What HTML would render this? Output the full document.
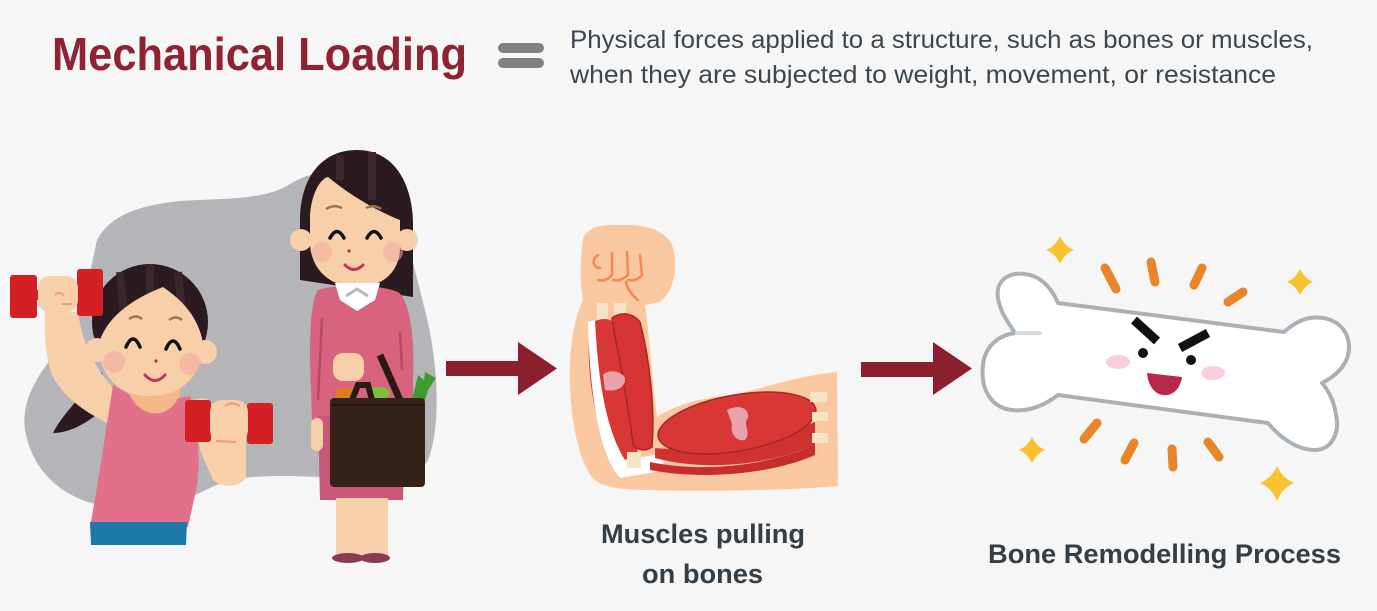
<!DOCTYPE html>
<html><head><meta charset="utf-8"><style>
html,body{margin:0;padding:0;background:#f6f6f6;}
svg{display:block;}
</style></head><body>
<svg width="1377" height="611" viewBox="0 0 1377 611" xmlns="http://www.w3.org/2000/svg">
<rect width="1377" height="611" fill="#f6f6f6"/>

<!-- Header -->
<text x="52" y="70" font-family="Liberation Sans, sans-serif" font-weight="bold" font-size="46" fill="#8e2333" textLength="415" lengthAdjust="spacingAndGlyphs">Mechanical Loading</text>
<rect x="498" y="43" width="46" height="10" rx="5" fill="#818181"/>
<rect x="498" y="58" width="46" height="10" rx="5" fill="#818181"/>
<text x="570" y="48" font-family="Liberation Sans, sans-serif" font-size="25" fill="#3b464e" textLength="743" lengthAdjust="spacingAndGlyphs">Physical forces applied to a structure, such as bones or muscles,</text>
<text x="570" y="83" font-family="Liberation Sans, sans-serif" font-size="25" fill="#3b464e" textLength="706" lengthAdjust="spacingAndGlyphs">when they are subjected to weight, movement, or resistance</text>

<!-- Gray blob -->
<path d="M 97 240 C 110 215, 140 205, 180 201 C 230 198, 265 200, 290 184 C 310 172, 340 165, 370 170 C 400 200, 412 260, 425 310 C 440 370, 440 430, 428 460 C 418 478, 390 478, 340 478 C 300 476, 260 474, 230 480 C 210 486, 200 495, 180 500 L 95 504 C 60 495, 32 470, 25 430 C 20 395, 45 365, 70 335 C 85 310, 90 270, 97 240 Z" fill="#b4b5b9"/>

<!-- ===== Girl with dumbbells ===== -->
<path d="M 102 372 C 82 395, 62 415, 53 433 C 72 433, 92 420, 108 405 Z" fill="#2b1a20"/>
<ellipse cx="150" cy="322" rx="58" ry="58" fill="#2b1a20"/>
<path d="M 120 272 L 126 340 M 150 264 L 150 300 M 178 272 L 184 330" stroke="#3a262c" stroke-width="8"/>
<path d="M 45 310 L 78 312 C 82 340, 92 365, 115 390 L 112 425 C 90 415, 65 400, 52 375 C 45 355, 44 330, 45 310 Z" fill="#f7cfa9"/>
<rect x="128" y="375" width="52" height="40" fill="#f4b787"/>
<path d="M 113 385 L 130 395 C 140 418, 168 420, 178 398 L 190 396 C 198 420, 202 470, 195 495 L 188 527 L 90 527 C 95 500, 100 470, 106 430 Z" fill="#e2708b"/>
<path d="M 90 522 L 187 522 L 186 545 L 91 545 Z" fill="#1c79a9"/>
<path d="M 193 400 C 205 396, 212 400, 215 410 L 246 410 L 246 478 C 238 488, 222 488, 213 480 L 200 450 Z" fill="#f7cfa9"/>
<path d="M 100 340 C 110 312, 140 296, 163 287 C 182 300, 196 315, 202 338 C 205 372, 185 396, 150 396 C 115 396, 97 372, 100 340 Z" fill="#f7cfa9"/>
<circle cx="97" cy="350" r="12" fill="#f7cfa9"/>
<circle cx="205" cy="352" r="12" fill="#f7cfa9"/>
<circle cx="114" cy="362" r="11" fill="#f2a9a0" opacity="0.6"/>
<circle cx="190" cy="364" r="11" fill="#f2a9a0" opacity="0.6"/>
<path d="M 129 319 Q 136 314 142 319 M 169 320 Q 176 315 182 320" stroke="#a07448" stroke-width="2.5" fill="none"/>
<path d="M 126 347 Q 133 331 140 347 M 166 349 Q 173 333 180 349" stroke="#111" stroke-width="3.5" fill="none" stroke-linecap="round"/>
<circle cx="156" cy="361" r="1.6" fill="#b03050"/>
<path d="M 145 375 Q 155 386 165 375" stroke="#c23458" stroke-width="3" fill="none" stroke-linecap="round"/>
<rect x="37" y="290" width="42" height="10" fill="#d42024"/>
<rect x="10" y="275" width="27" height="43" rx="3" fill="#d42024"/>
<rect x="77" y="269" width="26" height="47" rx="3" fill="#d42024"/>
<rect x="38" y="276" width="40" height="36" rx="12" fill="#f7cfa9"/>
<path d="M 55 295 Q 60 290 64 296 M 62 304 L 72 304" stroke="#eb9a7a" stroke-width="2" fill="none"/>
<rect x="185" y="400" width="26" height="42" rx="3" fill="#d42024"/>
<rect x="247" y="403" width="26" height="41" rx="3" fill="#d42024"/>
<rect x="210" y="400" width="38" height="42" rx="12" fill="#f7cfa9"/>
<path d="M 225 406 Q 232 401 240 406 M 216 441 L 236 442" stroke="#eb9a7a" stroke-width="2" fill="none"/>

<!-- ===== Woman with bag ===== -->
<path d="M 357 150 C 395 150, 413 185, 413 225 L 413 297 L 300 280 L 300 220 C 300 180, 320 150, 357 150 Z" fill="#2b1a20"/>
<path d="M 340 155 L 340 180 M 372 152 L 372 200" stroke="#3a262c" stroke-width="8"/>
<path d="M 318 290 C 335 284, 380 284, 398 292 C 410 300, 415 340, 413 380 L 413 417 L 312 420 L 310 360 C 310 320, 312 300, 318 290 Z" fill="#d8637e"/>
<path d="M 322 318 L 318 400 M 400 332 L 402 370" stroke="#b84866" stroke-width="2.5"/>
<path d="M 318 416 L 405 416 L 403 500 L 320 500 Z" fill="#c8577a"/>
<path d="M 310 215 C 312 190, 322 178, 328 177 C 350 195, 375 210, 400 220 L 400 250 C 398 275, 380 287, 357 287 C 330 287, 312 270, 310 245 Z" fill="#f7cfa9"/>
<circle cx="301" cy="240" r="11" fill="#f7cfa9"/>
<circle cx="407" cy="240" r="11" fill="#f7cfa9"/>
<circle cx="322" cy="252" r="10" fill="#f2a9a0" opacity="0.55"/>
<circle cx="393" cy="252" r="10" fill="#f2a9a0" opacity="0.55"/>
<path d="M 326 209 Q 334 204 342 208 M 366 208 Q 374 204 381 209" stroke="#a07448" stroke-width="2.5" fill="none"/>
<path d="M 330 238 Q 337 225 344 238 M 367 238 Q 374 225 381 238" stroke="#111" stroke-width="3.5" fill="none" stroke-linecap="round"/>
<circle cx="349" cy="251" r="1.6" fill="#b03050"/>
<path d="M 345 265 Q 354 274 363 265" stroke="#c23458" stroke-width="3" fill="none" stroke-linecap="round"/>
<path d="M 335 283 L 380 283 L 375 300 L 357 311 L 340 300 Z" fill="#ffffff"/>
<path d="M 346 296 L 357 289 L 368 296" stroke="#b5b8bd" stroke-width="3" fill="none"/>
<rect x="336" y="498" width="26" height="58" fill="#f7cfa9"/>
<rect x="362" y="498" width="26" height="58" fill="#f7cfa9"/>
<ellipse cx="348" cy="558" rx="16" ry="5" fill="#8b3a55"/>
<ellipse cx="375" cy="558" rx="15" ry="5" fill="#8b3a55"/>
<rect x="311" y="418" width="12" height="33" rx="6" fill="#f7cfa9"/>
<path d="M 412 400 L 418 375 L 424 380 L 425 372 L 436 378 L 428 390 L 425 400 Z" fill="#3f9b2f"/>
<rect x="336" y="388" width="16" height="12" fill="#e07a28"/>
<ellipse cx="378" cy="393" rx="12" ry="6" fill="#7cc040"/>
<path d="M 352 400 L 358 385 L 368 385 L 372 400" stroke="#2a1a12" stroke-width="6" fill="none"/>
<path d="M 380 355 L 400 400" stroke="#2a1a12" stroke-width="7"/>
<rect x="333" y="353" width="31" height="28" rx="10" fill="#f7cfa9"/>
<rect x="330" y="398" width="95" height="89" rx="4" fill="#35231a"/>
<path d="M 332 405 L 423 405" stroke="#22150e" stroke-width="2"/>

<!-- Arrow 1 -->
<polygon points="446,361 518,361 518,342 557,368.5 518,395 518,376 446,376" fill="#8b1f2f"/>

<!-- ===== Arm ===== -->
<path d="M 583 240 C 585 228, 600 224, 620 225 C 645 224, 665 230, 672 245 C 678 262, 676 290, 660 302 L 645 305 C 650 340, 652 380, 657 417 C 675 405, 700 398, 730 395 C 760 390, 795 376, 837 372 L 838 486 C 800 490, 700 492, 650 490 C 620 490, 600 487, 592 477 C 575 455, 568 400, 570 360 C 572 330, 578 310, 583 300 C 580 285, 580 260, 583 240 Z" fill="#f9c8a0"/>
<path d="M 598 255 C 592 258, 592 268, 600 268 M 612 253 L 612 275 Q 606 282 598 280 M 627 252 L 628 275 Q 620 282 613 280 M 640 255 L 642 275 Q 636 282 628 280 M 626 282 Q 628 292 638 300" stroke="#f08a50" stroke-width="2.5" fill="none" stroke-linecap="round"/>
<rect x="597" y="303" width="11" height="17" fill="#f6e4c4"/>
<rect x="614" y="303" width="12" height="16" fill="#f6e4c4"/>
<path d="M 590 325 C 600 315, 615 318, 622 330 C 635 370, 640 420, 637 455 C 630 462, 615 460, 608 455 C 595 420, 585 370, 590 325 Z" fill="#d93636"/>
<path d="M 612 318 C 620 312, 632 312, 640 322 C 650 360, 655 410, 652 447 C 645 452, 638 450, 633 445 C 628 400, 618 355, 612 318 Z" fill="#d63434" stroke="#a82626" stroke-width="1.5"/>
<path d="M 588 322 L 595 320 C 598 380, 606 430, 625 460 L 660 454 L 666 470 L 620 478 C 600 455, 590 400, 588 322 Z" fill="#ffffff"/>
<path d="M 603 375 C 610 368, 622 372, 625 378 C 626 388, 615 392, 605 390 Z" fill="#e9a3ab"/>
<path d="M 655 458 C 700 470, 760 468, 815 445 L 815 422 C 770 440, 700 452, 655 448 Z" fill="#d03232"/>
<path d="M 650 470 C 700 480, 770 475, 815 455 L 815 445 C 760 468, 700 472, 650 462 Z" fill="#c62e2e"/>
<ellipse cx="737" cy="423" rx="80" ry="28" transform="rotate(-10 737 423)" fill="#d93636" stroke="#a82626" stroke-width="1.5"/>
<path d="M 727 410 C 738 404, 750 408, 748 418 C 742 424, 752 432, 745 440 C 735 442, 730 432, 732 424 Z" fill="#e9a3ab"/>
<rect x="810" y="392" width="17" height="10" fill="#f6e4c4"/>
<rect x="812" y="412" width="16" height="9" fill="#f6e4c4"/>
<rect x="812" y="433" width="16" height="10" fill="#f6e4c4"/>
<rect x="627" y="452" width="14" height="16" fill="#f6e4c4"/>

<text x="601" y="543" font-family="Liberation Sans, sans-serif" font-weight="bold" font-size="27" fill="#333e46" textLength="204" lengthAdjust="spacingAndGlyphs">Muscles pulling</text>
<text x="642" y="583" font-family="Liberation Sans, sans-serif" font-weight="bold" font-size="27" fill="#333e46" textLength="121" lengthAdjust="spacingAndGlyphs">on bones</text>

<!-- Arrow 2 -->
<polygon points="861,362 933,362 933,342 972,368.5 933,395 933,377 861,377" fill="#8b1f2f"/>

<!-- ===== Bone ===== -->
<path d="M 1058 303 Q 1048 280 1030 275 C 1010 270, 995 280, 998 298 C 1000 312, 1008 322, 1015 333 C 1000 335, 985 345, 983 365 C 980 390, 992 408, 1012 410 C 1030 412, 1045 405, 1058 395 L 1268 423 C 1278 435, 1295 450, 1315 450 C 1332 450, 1340 432, 1336 415 C 1334 400, 1328 390, 1322 383 C 1338 375, 1350 362, 1349 345 C 1347 325, 1330 315, 1310 318 C 1298 320, 1290 327, 1284 332 Z" fill="#ffffff" stroke="#a9b0b6" stroke-width="4" stroke-linejoin="round"/>
<path d="M 1017 333 L 1040 333" stroke="#d6dadd" stroke-width="4" stroke-linecap="round"/>
<path d="M 1134 320 L 1157 341" stroke="#111" stroke-width="9"/>
<path d="M 1180 348 L 1208 333" stroke="#111" stroke-width="9"/>
<circle cx="1143" cy="353" r="5" fill="#111"/>
<circle cx="1191" cy="360" r="5" fill="#111"/>
<path d="M 1147 373 L 1182 377 C 1180 390, 1172 396, 1163 395 C 1154 394, 1148 385, 1147 373 Z" fill="#b8284a"/>
<ellipse cx="1118" cy="362" rx="12" ry="7" fill="#f6c2d2" opacity="0.8"/>
<ellipse cx="1213" cy="373" rx="12" ry="7" fill="#f6c2d2" opacity="0.8"/>
<g stroke="#e8842a" stroke-width="9" stroke-linecap="round">
<path d="M 1105 268 L 1116 289"/>
<path d="M 1151 262 L 1155 282"/>
<path d="M 1202 268 L 1194 285"/>
<path d="M 1243 292 L 1228 302"/>
<path d="M 1097 423 L 1084 439"/>
<path d="M 1134 443 L 1125 460"/>
<path d="M 1172 449 L 1173 467"/>
<path d="M 1208 442 L 1219 457"/>
</g>
<g fill="#f6c22e">
<path d="M 1060 236 Q 1064 246 1074 250 Q 1064 254 1060 264 Q 1056 254 1046 250 Q 1056 246 1060 236 Z"/>
<path d="M 1300 269 Q 1304 278 1313 282 Q 1304 286 1300 295 Q 1296 286 1287 282 Q 1296 278 1300 269 Z"/>
<path d="M 1032 437 Q 1036 446 1045 450 Q 1036 454 1032 463 Q 1028 454 1019 450 Q 1028 446 1032 437 Z"/>
<path d="M 1277 466 Q 1282 478 1294 483 Q 1282 488 1277 501 Q 1272 488 1260 483 Q 1272 478 1277 466 Z"/>
</g>

<text x="988" y="563" font-family="Liberation Sans, sans-serif" font-weight="bold" font-size="27" fill="#333e46" textLength="353" lengthAdjust="spacingAndGlyphs">Bone Remodelling Process</text>
</svg>
</body></html>
